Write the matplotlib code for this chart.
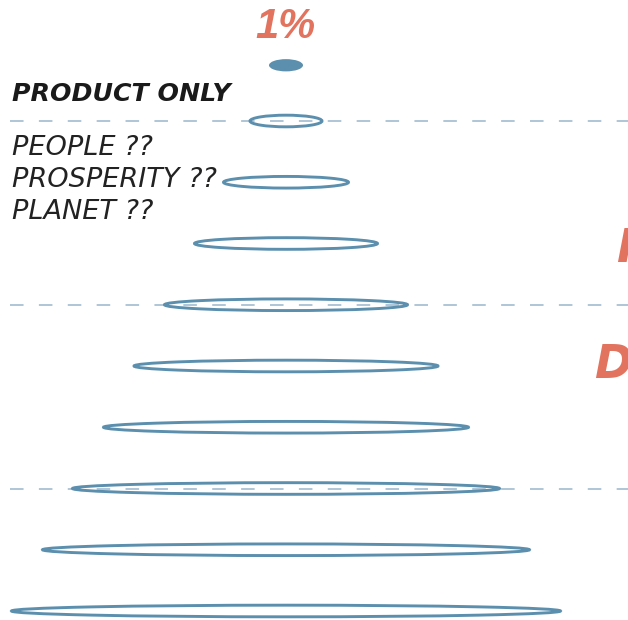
# Stacked rings chart: product-only vs people / prosperity / planet
import matplotlib.pyplot as plt
from matplotlib.patches import Ellipse

# ring widths (px-ish units), top dot first
dot_width = 34
ring_widths = [72, 125, 183, 243, 304, 365, 427, 487, 549]
divider_levels = [1, 4, 7]
side_labels = ["PEOPLE ??", "PROSPERITY ??", "PLANET ??"]
top_label = "1%"
header_label = "PRODUCT ONLY"

blue = "#5b8fad"
dash_col = "#a9c1d3"
coral = "#e2735f"

W, H = 628, 620
fig = plt.figure(figsize=(W / 100, H / 100), dpi=100)
ax = fig.add_axes([0, 0, 1, 1])
ax.set_xlim(0, W)
ax.set_ylim(1 + (H - 121) / 61.25, 1 - 121 / 61.25)
ax.axis("off")

cx = 286
ring_h = 0.19

# dashed dividers
for lvl in divider_levels:
    ax.plot([10, W], [lvl, lvl], color=dash_col, lw=1.3,
            linestyle=(0, (7.5, 8.5)), zorder=1)

# top filled dot
ax.add_patch(Ellipse((cx, 0.09), dot_width, 0.2, facecolor=blue,
                     edgecolor="none", zorder=3))

# rings
for i, w in enumerate(ring_widths):
    ax.add_patch(Ellipse((cx, i + 1), w, ring_h, facecolor="none",
                         edgecolor=blue, lw=2.1, zorder=3))

def px(x, y):
    return x / W, 1 - y / H

fig.text(*px(285, 38), top_label, color=coral, fontsize=30,
         fontweight="bold", style="italic", ha="center", va="baseline",
         family="Liberation Sans")
fig.text(*px(12, 101), header_label, color="#1a1a1a", fontsize=18.2,
         fontweight="bold", style="italic", ha="left", va="baseline")

for j, lab in enumerate(side_labels):
    fig.text(*px(12, 155 + j * 32), lab, color="#222222", fontsize=19.5,
             style="italic", ha="left", va="baseline")

# big coral words running off the right edge
fig.text(*px(616, 262), "I", color=coral, fontsize=33, fontweight="bold",
         style="italic", ha="left", va="baseline")
fig.text(*px(594, 378), "D", color=coral, fontsize=33, fontweight="bold",
         style="italic", ha="left", va="baseline")

fig.savefig("out.png", dpi=100)
